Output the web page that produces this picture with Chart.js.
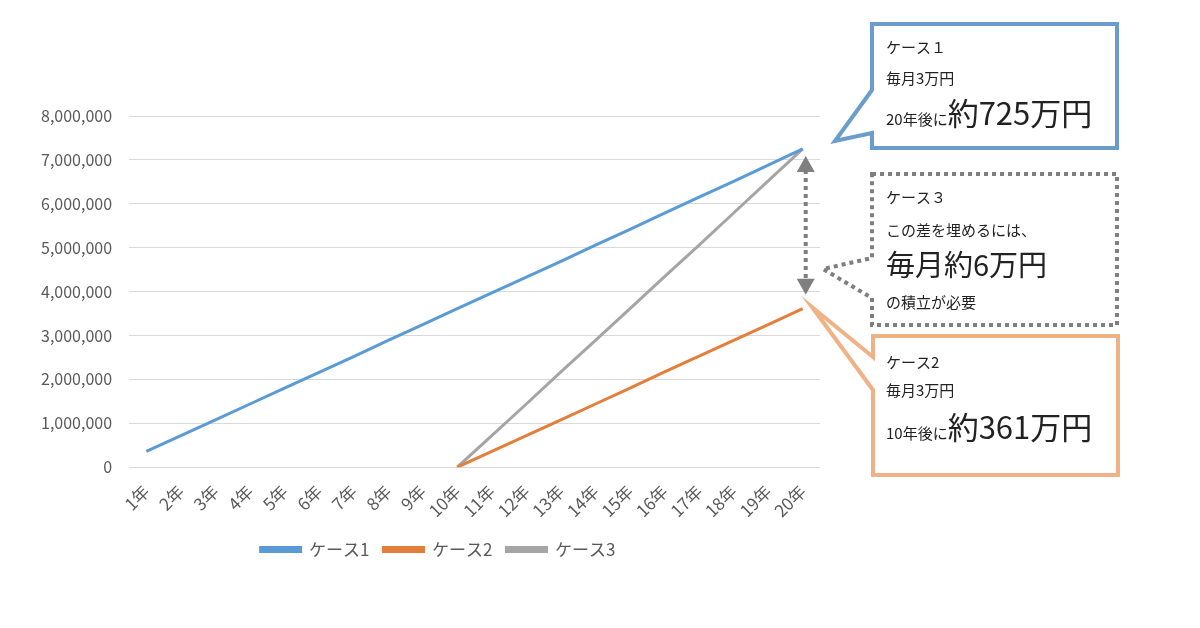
<!DOCTYPE html>
<html>
<head>
<meta charset="utf-8">
<script src="https://cdn.jsdelivr.net/npm/chart.js@4"></script>
<style>
  html, body { margin: 0; padding: 0; background: #fff; }
  #wrap { width: 1200px; height: 628px; position: relative; }
</style>
</head>
<body>
<div id="wrap"><canvas id="savingsChart" width="1200" height="628"></canvas></div>
<script>
const years = ['1年','2年','3年','4年','5年','6年','7年','8年','9年','10年',
    '11年','12年','13年','14年','15年','16年','17年','18年','19年','20年'];
const case1 = [360000, 720000, 1080000, 1440000, 1800000, 2160000, 2520000, 2890000, 3250000, 3610000,
    3970000, 4330000, 4690000, 5060000, 5420000, 5790000, 6150000, 6510000, 6880000, 7250000];
const case2 = [null, null, null, null, null, null, null, null, null, 0,
    360000, 720000, 1080000, 1440000, 1800000, 2170000, 2530000, 2890000, 3250000, 3610000];
const case3 = [null, null, null, null, null, null, null, null, null, 0,
    720000, 1440000, 2170000, 2890000, 3610000, 4340000, 5060000, 5790000, 6520000, 7250000];
const yTicksMax = 8000000;

const FONT = '"Noto Sans CJK JP", "Noto Sans", sans-serif';
const canvas = document.getElementById('savingsChart');

// draws a speech box with a tail pointing left
const boxPath = (ctx, b) => {
    ctx.beginPath();
    ctx.moveTo(b.x, b.y);
    ctx.lineTo(b.x + b.w, b.y);
    ctx.lineTo(b.x + b.w, b.y + b.h);
    ctx.lineTo(b.x, b.y + b.h);
    ctx.lineTo(b.x, b.tail[2]);
    ctx.lineTo(b.tail[0], b.tail[1]);
    ctx.lineTo(b.x, b.tail[3]);
    ctx.closePath();
}

const drawLines = (ctx, x, lines) => {
    lines.forEach((line) => {
        let cx = x;
        line.parts.forEach((p) => {
            ctx.font = p.size + 'px ' + FONT;
            ctx.fillText(p.text, cx, line.y);
            cx += ctx.measureText(p.text).width;
        });
    });
}

const callouts = {
    id: 'callouts',
    afterLayout(chart) {
        // nudge the legend a little to the right, like the original
        if (chart.legend) {
            chart.legend.left += 16;
            chart.legend.right += 16;
        }
    },
    afterDraw(chart) {
        const ctx = chart.ctx;
        const xs = chart.scales.x;
        const ys = chart.scales.y;
        ctx.save();
        ctx.lineJoin = 'miter';
        ctx.textBaseline = 'alphabetic';

        // case 1 box
        const b1 = {x: 872, y: 24, w: 245, h: 124, tail: [835, 141, 133, 90]};
        boxPath(ctx, b1);
        ctx.fillStyle = '#fff';
        ctx.fill();
        ctx.strokeStyle = '#6A9DCB';
        ctx.lineWidth = 4;
        ctx.stroke();
        ctx.fillStyle = '#222';
        drawLines(ctx, 886, [
            {y: 53, parts: [{text: 'ケース１', size: 15}]},
            {y: 84, parts: [{text: '毎月3万円', size: 15}]},
            {y: 125, parts: [{text: '20年後に', size: 15}, {text: '約725万円', size: 31}]}
        ]);

        // case 3 box (dotted)
        const b3 = {x: 872, y: 174, w: 245, h: 151, tail: [823, 269, 298, 258]};
        ctx.setLineDash([4, 4]);
        boxPath(ctx, b3);
        ctx.fillStyle = '#fff';
        ctx.fill();
        ctx.strokeStyle = '#7F7F7F';
        ctx.lineWidth = 4;
        ctx.stroke();
        ctx.setLineDash([]);
        ctx.fillStyle = '#222';
        drawLines(ctx, 886, [
            {y: 203, parts: [{text: 'ケース３', size: 15}]},
            {y: 236, parts: [{text: 'この差を埋めるには、', size: 15}]},
            {y: 276, parts: [{text: '毎月約6万円', size: 29}]},
            {y: 308, parts: [{text: 'の積立が必要', size: 15}]}
        ]);

        // case 2 box
        const b2 = {x: 873, y: 336, w: 245, h: 139, tail: [812, 307, 390, 357]};
        boxPath(ctx, b2);
        ctx.fillStyle = '#fff';
        ctx.fill();
        ctx.strokeStyle = '#EFB287';
        ctx.lineWidth = 4;
        ctx.stroke();
        ctx.fillStyle = '#222';
        drawLines(ctx, 886, [
            {y: 368, parts: [{text: 'ケース2', size: 15}]},
            {y: 396, parts: [{text: '毎月3万円', size: 15}]},
            {y: 439, parts: [{text: '10年後に', size: 15}, {text: '約361万円', size: 31}]}
        ]);

        // dotted double arrow between case 1 and case 2 at year 20
        const last = years.length - 1;
        const ax = xs.getPixelForValue(last) + 3;
        const yTop = ys.getPixelForValue(case1[last]) + 7;
        const yBot = ys.getPixelForValue(case2[last]) - 14;
        ctx.strokeStyle = '#7F7F7F';
        ctx.fillStyle = '#7F7F7F';
        ctx.lineWidth = 4;
        ctx.setLineDash([4, 4]);
        ctx.beginPath();
        ctx.moveTo(ax, yTop + 14);
        ctx.lineTo(ax, yBot - 14);
        ctx.stroke();
        ctx.setLineDash([]);
        ctx.beginPath();
        ctx.moveTo(ax, yTop);
        ctx.lineTo(ax - 9, yTop + 16);
        ctx.lineTo(ax + 9, yTop + 16);
        ctx.closePath();
        ctx.fill();
        ctx.beginPath();
        ctx.moveTo(ax, yBot);
        ctx.lineTo(ax - 9, yBot - 16);
        ctx.lineTo(ax + 9, yBot - 16);
        ctx.closePath();
        ctx.fill();
        ctx.restore();
    }
};

const data = {
    labels: years,
    datasets: [
        {label: 'ケース1', data: case1, borderColor: '#5B9BD5', backgroundColor: '#5B9BD5'},
        {label: 'ケース2', data: case2, borderColor: '#E47E3B', backgroundColor: '#E47E3B'},
        {label: 'ケース3', data: case3, borderColor: '#A5A5A5', backgroundColor: '#A5A5A5'}
    ]
};

const config = {
    type: 'line',
    data,
    options: {
        responsive: false,
        animation: false,
        layout: {padding: {left: 24, right: 380, top: 116, bottom: 60}},
        elements: {
            line: {borderWidth: 3, tension: 0},
            point: {radius: 0, hoverRadius: 0}
        },
        plugins: {
            legend: {
                position: 'bottom',
                labels: {
                    boxWidth: 40,
                    boxHeight: 4,
                    padding: 14,
                    color: '#595959',
                    font: {family: FONT, size: 17}
                }
            },
            tooltip: {enabled: false}
        },
        scales: {
            x: {
                offset: true,
                grid: {display: false},
                border: {display: false},
                ticks: {
                    color: '#595959',
                    font: {family: FONT, size: 17},
                    maxRotation: 45,
                    minRotation: 45,
                    autoSkip: false,
                    padding: 6
                }
            },
            y: {
                min: 0,
                max: yTicksMax,
                grid: {color: '#D9D9D9', drawTicks: false},
                border: {display: false},
                ticks: {
                    stepSize: 1000000,
                    padding: 17,
                    color: '#595959',
                    font: {family: FONT, size: 16},
                    callback: (v) => v.toLocaleString('en-US')
                }
            }
        }
    },
    plugins: [callouts]
};

const savingsChart = new Chart(canvas, config);
</script>
</body>
</html>
